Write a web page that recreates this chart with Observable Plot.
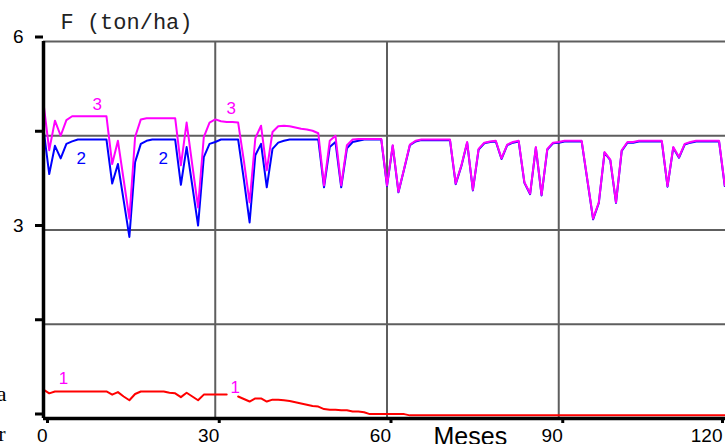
<!DOCTYPE html>
<html>
<head>
<meta charset="utf-8">
<script src="https://cdn.jsdelivr.net/npm/d3@7"></script>
<script src="https://cdn.jsdelivr.net/npm/@observablehq/plot@0.6"></script>
<style>
  html, body { margin: 0; padding: 0; background: #fff; overflow: hidden; }
  #chart { width: 725px; height: 444px; overflow: hidden; }
  #chart svg { display: block; overflow: hidden !important; }
</style>
</head>
<body>
<div id="chart"></div>
<script>
// Series 1 (red), 2 (blue), 3 (magenta): F (ton/ha) by month 0..120
const serie1 = [
  0.46,0.40,0.43,0.43,0.43,0.43,0.43,0.43,0.43,0.43,
  0.43,0.43,0.38,0.42,0.35,0.29,0.39,0.43,0.43,0.43,
  0.43,0.43,0.41,0.40,0.34,0.41,0.35,0.29,0.38,0.38,
  0.38,0.38,0.38,null,0.35,0.31,0.27,0.32,0.32,0.27,
  0.30,0.30,0.29,0.28,0.26,0.24,0.22,0.20,0.19,0.15,
  0.14,0.14,0.13,0.13,0.11,0.11,0.10,0.07,0.07,0.07,
  0.07,0.07,0.07,0.07,0.05,0.05,0.05,0.05,0.05,0.05,
  0.05,0.05,0.05,0.05,0.05,0.05,0.05,0.05,0.05,0.05,
  0.05,0.05,0.05,0.05,0.05,0.05,0.05,0.05,0.05,0.05,
  0.05,0.05,0.05,0.05,0.05,0.05,0.05,0.05,0.05,0.05,
  0.05,0.05,0.05,0.05,0.05,0.05,0.05,0.05,0.05,0.05,
  0.05,0.05,0.05,0.05,0.05,0.05,0.05,0.05,0.05,0.05,
  0.05
];
const serie2 = [
  4.61,3.89,4.34,4.14,4.37,4.41,4.44,4.44,4.44,4.44,
  4.44,4.44,3.74,4.05,3.47,2.89,4.08,4.37,4.42,4.44,
  4.44,4.44,4.44,4.44,3.72,4.32,3.70,3.07,4.16,4.37,
  4.40,4.44,4.44,4.44,4.44,3.80,3.12,4.19,4.37,3.68,
  4.29,4.39,4.42,4.44,4.44,4.44,4.44,4.44,4.44,3.68,
  4.32,4.40,3.68,4.30,4.40,4.42,4.44,4.44,4.44,4.44,
  3.70,4.34,3.60,3.97,4.35,4.41,4.43,4.43,4.43,4.43,
  4.43,4.43,3.73,4.02,4.39,3.63,4.28,4.38,4.40,4.41,
  4.13,4.35,4.39,4.41,3.75,3.57,4.31,3.55,4.28,4.38,
  4.39,4.41,4.41,4.41,4.41,3.79,3.17,3.43,4.23,4.11,
  3.43,4.26,4.39,4.39,4.41,4.41,4.41,4.41,4.41,3.69,
  4.31,4.15,4.36,4.39,4.41,4.41,4.41,4.41,4.41,3.70,
  4.09
];
const serie3 = [
  5.02,4.27,4.74,4.50,4.75,4.81,4.81,4.81,4.81,4.81,
  4.81,4.81,4.05,4.42,3.80,3.18,4.48,4.76,4.78,4.78,
  4.78,4.78,4.78,4.78,4.03,4.71,4.03,3.36,4.48,4.71,
  4.76,4.73,4.72,4.72,4.71,4.10,3.44,4.46,4.66,3.95,
  4.56,4.65,4.66,4.65,4.63,4.61,4.60,4.58,4.54,3.71,
  4.42,4.50,3.71,4.35,4.44,4.45,4.45,4.45,4.45,4.45,
  3.71,4.35,3.61,3.98,4.36,4.42,4.44,4.44,4.44,4.44,
  4.44,4.44,3.74,4.03,4.40,3.64,4.29,4.39,4.41,4.42,
  4.14,4.36,4.40,4.42,3.76,3.58,4.32,3.56,4.29,4.39,
  4.40,4.42,4.42,4.42,4.42,3.80,3.18,3.44,4.24,4.12,
  3.44,4.27,4.40,4.40,4.42,4.42,4.42,4.42,4.42,3.70,
  4.32,4.16,4.37,4.40,4.42,4.42,4.42,4.42,4.42,3.71,
  4.10
];

const xTicks = [0, 30, 60, 90];
const xTickLast = [120];
const xGrid = [30, 60, 90, 120];
const yTicks = [0, 1.5, 3, 4.5, 6];
const yLabeled = [6, 3];
const yGrid = [1.5, 3, 4.5, 6];

// Series label annotations (month, value, text)
const labels3 = [{m: 9.4, v: 5.0, t: "3"}, {m: 32.8, v: 4.93, t: "3"}];
const labels2 = [{m: 6.6, v: 4.14, t: "2"}, {m: 20.9, v: 4.14, t: "2"}];
const labels1 = [{m: 3.5, v: 0.64, t: "1"}, {m: 33.5, v: 0.49, t: "1"}];

const table = serie2.map((_, i) => ({m: i, s1: serie1[i], s2: serie2[i], s3: serie3[i]}));

const font = "'Liberation Sans', Arial, sans-serif";

const chart = Plot.plot({
  width: 725,
  height: 444,
  marginLeft: 43,
  marginTop: 41,
  marginBottom: 26,
  marginRight: 0,
  style: {fontFamily: font, background: "#fff", color: "#000", overflow: "hidden"},
  x: {domain: [0, 120], range: [43, 730], label: null},
  y: {domain: [0, 6], label: null},
  marks: [
    Plot.gridX(xGrid, {stroke: "#5e5e5e", strokeOpacity: 1, strokeWidth: 2}),
    Plot.gridY(yGrid, {stroke: "#5e5e5e", strokeOpacity: 1, strokeWidth: 2}),
    Plot.line(table, {x: "m", y: "s1", stroke: "#ff0000", strokeWidth: 2}),
    Plot.line(table, {x: "m", y: "s2", stroke: "#0000ff", strokeWidth: 2}),
    Plot.line(table, {x: "m", y: "s3", stroke: "#ff00ff", strokeWidth: 2}),
    Plot.ruleY([0], {stroke: "#000", strokeWidth: 3.5}),
    Plot.ruleX([0], {stroke: "#000", strokeWidth: 3.5}),
    Plot.axisY({ticks: yTicks, tickSize: 8, tickPadding: 12, strokeWidth: 3, stroke: "#000", label: null,
      tickFormat: d => yLabeled.includes(d) ? String(d) : "", fontSize: 19, dy: -4.5, fill: "#000"}),
    Plot.axisX({ticks: xTicks, tickSize: 5, tickPadding: 5, strokeWidth: 3, stroke: "#000", label: null,
      tickFormat: d => String(d), textAnchor: "end", dx: 4, fontSize: 19, fill: "#000"}),
    Plot.axisX({ticks: xTickLast, tickSize: 5, tickPadding: 5, strokeWidth: 3, stroke: "#000", label: null,
      tickFormat: d => String(d), textAnchor: "end", dx: -8, fontSize: 19, fill: "#000"}),
    Plot.text(labels3, {x: "m", y: "v", text: "t", fill: "#ff00ff", fontSize: 17, fontFamily: font}),
    Plot.text(labels2, {x: "m", y: "v", text: "t", fill: "#0000ff", fontSize: 17, fontFamily: font}),
    Plot.text(labels1, {x: "m", y: "v", text: "t", fill: "#ff00ff", fontSize: 17, fontFamily: font}),
    Plot.text(["F (ton/ha)"], {frameAnchor: "top-left", dx: 17, dy: -13, textAnchor: "start", lineAnchor: "bottom",
      fontFamily: "'Liberation Mono', 'Courier New', monospace", fontSize: 22, fill: "#222"}),
    Plot.text(["Meses"], {frameAnchor: "bottom-left", dx: 390, dy: 26, textAnchor: "start", lineAnchor: "bottom",
      fontFamily: font, fontSize: 25, fill: "#000"}),
    Plot.text(["a"], {frameAnchor: "bottom-left", dx: -37, dy: -18, textAnchor: "end", lineAnchor: "bottom",
      fontFamily: "'Liberation Serif', serif", fontSize: 22, fill: "#000"}),
    Plot.text(["r"], {frameAnchor: "bottom-left", dx: -38, dy: 22, textAnchor: "end", lineAnchor: "bottom",
      fontFamily: "'Liberation Serif', serif", fontSize: 22, fill: "#000"})
  ]
});
document.getElementById("chart").appendChild(chart);
</script>
</body>
</html>
